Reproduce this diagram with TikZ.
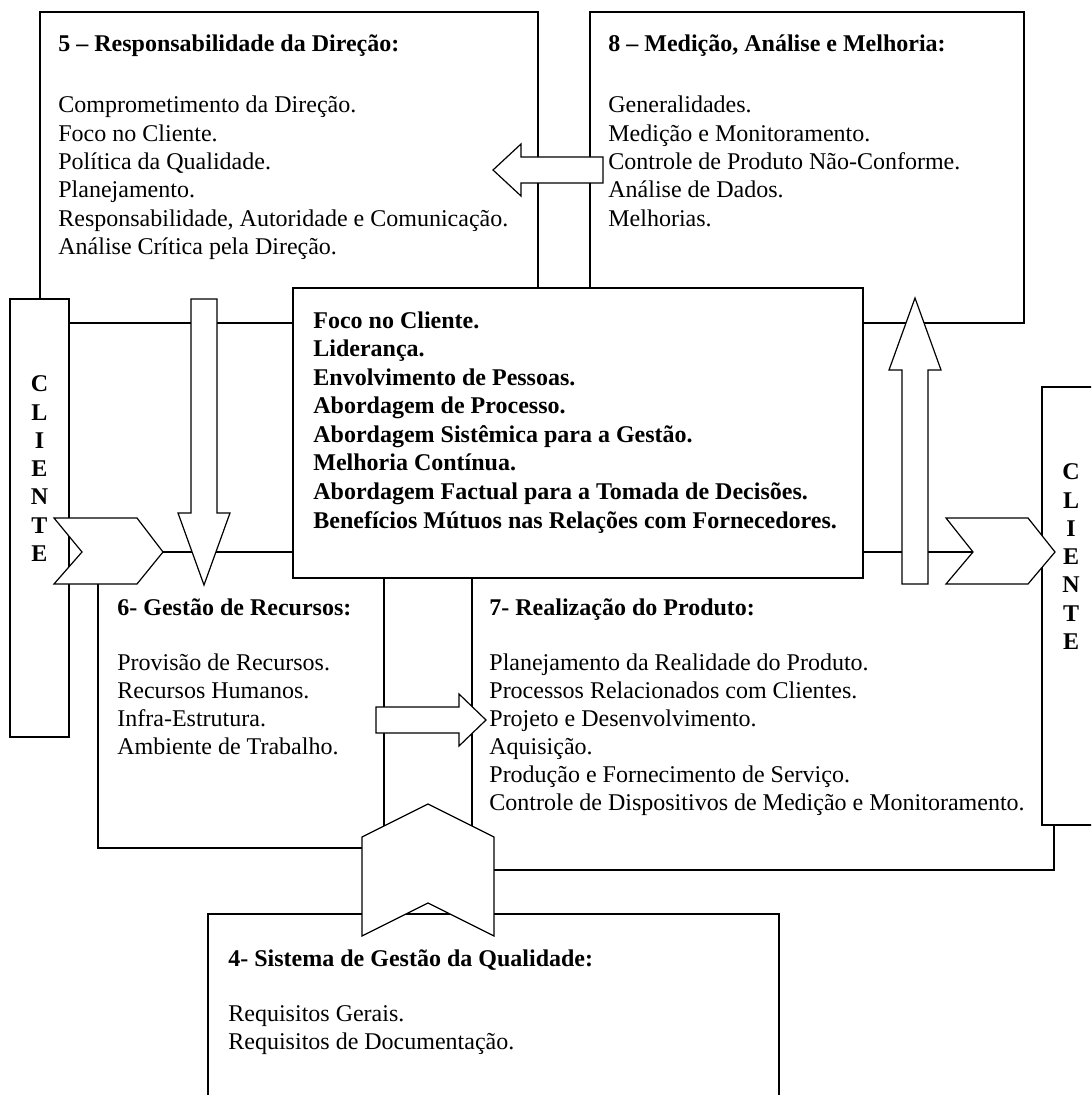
\documentclass[tikz,border=0pt]{standalone}
\usepackage{fontspec}
\setmainfont{Liberation Serif}
\begin{document}
\begin{tikzpicture}[x=0.5pt,y=-0.5pt,
  panel/.style={draw=black,line width=0.6pt,fill=white},
  item/.style={anchor=base west,inner sep=0pt,font=\fontsize{12pt}{14pt}\selectfont},
  head/.style={anchor=base west,inner sep=0pt,font=\fontsize{12pt}{14pt}\selectfont\bfseries},
  letter/.style={anchor=base,inner sep=0pt,font=\fontsize{12pt}{14pt}\selectfont\bfseries},
]
\useasboundingbox (0,0) rectangle (1091,1095);
\clip (0,0) rectangle (1091,1095);

% --- section panels ---
\path[panel] (40,12) rectangle (538,323);     % 5
\path[panel] (590,12) rectangle (1024,323);   % 8
\path[panel] (98,552) rectangle (384,848);    % 6
\path[panel] (472,552) rectangle (1054,870);  % 7
\path[panel] (208,914) rectangle (779,1200);  % 4

% section 5
\node[head] (t5) at (58,52) {5 – Responsabilidade da Direção:};
\foreach \t [count=\i from 0] in {Comprometimento da Direção., Foco no Cliente.,
    Política da Qualidade., Planejamento., {Responsabilidade, Autoridade e Comunicação.},
    Análise Crítica pela Direção.}
  \node[item] (s5\i) at (58,113+28.3*\i) {\t};

% section 8
\node[head] (t8) at (608,52) {8 – Medição, Análise e Melhoria:};
\foreach \t [count=\i from 0] in {Generalidades., Medição e Monitoramento.,
    Controle de Produto Não-Conforme., Análise de Dados., Melhorias.}
  \node[item] (s8\i) at (608,113+28.3*\i) {\t};

% section 6
\node[head] (t6) at (117,615) {6- Gestão de Recursos:};
\foreach \t [count=\i from 0] in {Provisão de Recursos., Recursos Humanos.,
    Infra-Estrutura., Ambiente de Trabalho.}
  \node[item] (s6\i) at (117,670+28*\i) {\t};

% section 7
\node[head] (t7) at (489,615) {7- Realização do Produto:};
\foreach \t [count=\i from 0] in {Planejamento da Realidade do Produto.,
    Processos Relacionados com Clientes., Projeto e Desenvolvimento., Aquisição.,
    Produção e Fornecimento de Serviço.,
    Controle de Dispositivos de Medição e Monitoramento.}
  \node[item] (s7\i) at (489,670+28*\i) {\t};

% section 4
\node[head] (t4) at (228,966) {4- Sistema de Gestão da Qualidade:};
\node[item] (s40) at (228,1021) {Requisitos Gerais.};
\node[item] (s41) at (228,1049) {Requisitos de Documentação.};

% --- central principles ---
\path[panel] (293,288) rectangle (863,578);
\foreach \t [count=\i from 0] in {Foco no Cliente., Liderança., Envolvimento de Pessoas.,
    Abordagem de Processo., Abordagem Sistêmica para a Gestão., Melhoria Contínua.,
    Abordagem Factual para a Tomada de Decisões.,
    Benefícios Mútuos nas Relações com Fornecedores.}
  \node[head] (p\i) at (313,328.5+28.5*\i) {\t};

% --- customer columns ---
\path[panel] (10,299) rectangle (69,737);
\path[panel] (1042,387) rectangle (1101,825);
\foreach \c [count=\i from 0] in {C,L,I,E,N,T,E} {
  \node[letter] (cl\i) at (39.5,392+28.2*\i) {\c};
  \node[letter] (cr\i) at (1071,480+28.2*\i) {\c};
}

% --- block arrows ---
% 8 -> 5
\path[panel] (603,157) -- (521,157) -- (521,144) -- (493,170) -- (521,196)
  -- (521,183) -- (603,183) -- cycle;
% 5 -> 6
\path[panel] (191,299) -- (217,299) -- (217,513) -- (230,513) -- (204,585)
  -- (178,513) -- (191,513) -- cycle;
% 7 -> 8
\path[panel] (902,584) -- (902,370) -- (889,370) -- (915,298) -- (941,370)
  -- (928,370) -- (928,584) -- cycle;
% 6 -> 7
\path[panel] (376,707) -- (459,707) -- (459,694) -- (486,720) -- (459,746)
  -- (459,733) -- (376,733) -- cycle;

% --- chevrons ---
\path[panel] (54,518) -- (137,518) -- (163,552) -- (137,584) -- (54,584)
  -- (82,552) -- cycle;
\path[panel] (946,518) -- (1028,518) -- (1055,552) -- (1028,584) -- (946,584)
  -- (973,552) -- cycle;
\path[panel] (362,837) -- (428,804) -- (494,837) -- (494,936) -- (428,903)
  -- (362,936) -- cycle;
\end{tikzpicture}
\end{document}
